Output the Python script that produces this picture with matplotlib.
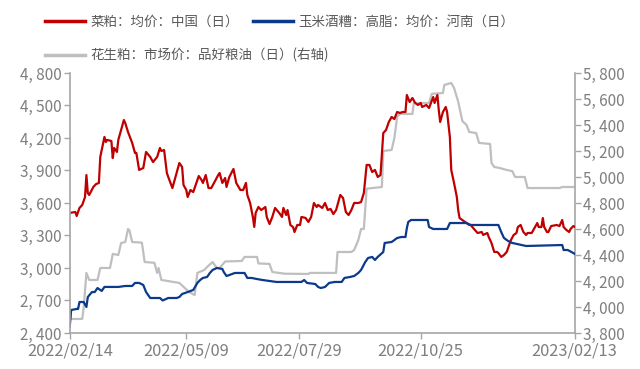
import pandas as pd
import matplotlib
import matplotlib.pyplot as plt
from matplotlib.lines import Line2D
from matplotlib.ticker import FuncFormatter, MultipleLocator

matplotlib.use('Agg')

plt.rcParams['font.family'] = ['Noto Sans CJK SC', 'DejaVu Sans']

start = pd.Timestamp('2022-02-14')

# 菜粕 (left axis): days since start, price
rape_days = [0, 4, 5, 7, 9, 11, 12, 13, 14, 17, 19, 21, 22, 25, 26, 27, 30, 31, 32, 34,
             35, 37, 39, 40, 42, 45, 47, 48, 50, 53, 55, 58, 60, 63, 65, 66, 68, 70, 71, 74,
             76, 79, 81, 82, 84, 85, 87, 89, 92, 93, 95, 96, 98, 100, 102, 104, 107, 108, 110, 112,
             113, 115, 118, 120, 123, 125, 127, 128, 130, 132, 133, 134, 136, 138, 141, 142, 144, 146, 148, 151,
             153, 154, 156, 157, 159, 161, 162, 164, 166, 167, 170, 172, 174, 176, 178, 179, 182, 184, 186, 188,
             190, 192, 195, 197, 199, 201, 203, 205, 208, 210, 212, 214, 216, 218, 220, 222, 224, 226, 228, 230,
             232, 234, 236, 238, 240, 242, 243, 245, 247, 249, 251, 253, 254, 257, 259, 262, 263, 265, 266, 267,
             269, 271, 272, 274, 275, 277, 279, 280, 281, 283, 286, 289, 292, 294, 297, 298, 301, 302, 304, 306,
             308, 309, 311, 313, 315, 316, 318, 320, 322, 323, 325, 327, 329, 330, 333, 335, 337, 338, 340, 341,
             342, 344, 345, 347, 351, 353, 355, 356, 358, 360, 361, 363, 364]
rape_vals = [3508, 3517, 3480, 3554, 3582, 3655, 3858, 3692, 3674, 3748, 3775, 3785, 4025, 4210, 4163, 4182, 4172, 4015, 4108, 4071,
             4182, 4274, 4366, 4338, 4255, 4154, 4062, 4062, 3905, 3923, 4071, 4025, 3978, 4025, 4108, 4080, 4089, 3877, 3840, 3738,
             3831, 3969, 3932, 3766, 3720, 3655, 3720, 3701, 3812, 3849, 3812, 3785, 3858, 3738, 3738, 3785, 3858, 3877, 3785, 3831,
             3748, 3840, 3914, 3785, 3720, 3720, 3785, 3674, 3600, 3471, 3379, 3508, 3563, 3535, 3563, 3471, 3406, 3471, 3554, 3508,
             3471, 3554, 3489, 3535, 3397, 3378, 3332, 3397, 3397, 3471, 3462, 3425, 3471, 3600, 3563, 3582, 3554, 3600, 3535, 3545,
             3498, 3535, 3674, 3646, 3517, 3489, 3535, 3600, 3600, 3609, 3692, 3951, 3951, 3886, 3905, 3840, 3858, 4246, 4274, 4348,
             4394, 4375, 4440, 4431, 4440, 4440, 4597, 4532, 4569, 4523, 4505, 4523, 4486, 4505, 4477, 4578, 4523, 4597, 4458, 4348,
             4440, 4486, 4440, 4209, 3905, 3785, 3656, 3535, 3461, 3443, 3415, 3397, 3351, 3323, 3332, 3305, 3323, 3286, 3231, 3148,
             3148, 3138, 3102, 3120, 3148, 3185, 3258, 3305, 3323, 3378, 3397, 3332, 3305, 3323, 3323, 3369, 3415, 3378, 3378, 3461,
             3378, 3332, 3332, 3387, 3397, 3387, 3443, 3378, 3351, 3332, 3360, 3387, 3380]

# 玉米酒糟 (left axis)
ddgs_days = [0, 1, 5, 6, 7, 10, 12, 13, 16, 18, 20, 23, 25, 35, 40, 45, 47, 50, 53, 55,
             58, 65, 67, 71, 77, 79, 81, 85, 89, 92, 94, 96, 99, 101, 103, 106, 110, 111, 113, 115,
             119, 126, 128, 131, 135, 139, 144, 149, 167, 169, 171, 177, 179, 181, 184, 187, 191, 196, 198, 202,
             205, 208, 210, 213, 215, 218, 220, 222, 226, 227, 232, 234, 236, 239, 242, 243, 244, 246, 258, 259,
             262, 272, 274, 286, 288, 309, 311, 313, 316, 319, 329, 355, 356, 359, 363, 364]
ddgs_vals = [2460, 2612, 2622, 2622, 2686, 2686, 2640, 2732, 2778, 2778, 2815, 2788, 2825, 2825, 2834, 2834, 2862, 2862, 2843, 2778,
             2723, 2723, 2700, 2723, 2723, 2732, 2760, 2778, 2797, 2862, 2889, 2908, 2917, 2954, 2982, 3000, 2991, 2963, 2926, 2935,
             2954, 2954, 2908, 2908, 2898, 2889, 2880, 2871, 2871, 2889, 2862, 2852, 2825, 2815, 2825, 2862, 2871, 2871, 2908, 2917,
             2926, 2954, 2982, 3055, 3092, 3102, 3074, 3102, 3148, 3231, 3240, 3258, 3277, 3286, 3286, 3369, 3425, 3443, 3443, 3378,
             3360, 3360, 3415, 3415, 3397, 3397, 3332, 3277, 3249, 3231, 3203, 3212, 3166, 3166, 3138, 3130]

# 花生粕 (right axis)
peanut_days = [0, 1, 9, 10, 12, 14, 20, 22, 29, 31, 35, 37, 40, 42, 43, 45, 52, 54, 61, 63,
               64, 66, 79, 86, 90, 92, 97, 99, 103, 106, 108, 112, 124, 126, 135, 136, 144, 146, 155, 172,
               173, 192, 193, 203, 205, 208, 210, 212, 214, 225, 226, 232, 234, 236, 238, 247, 248, 259, 261, 269,
               270, 275, 277, 280, 283, 286, 288, 293, 295, 303, 304, 306, 310, 315, 319, 321, 328, 330, 353, 355, 364]
peanut_vals = [3954, 3908, 3908, 3992, 4262, 4208, 4208, 4300, 4300, 4408, 4400, 4492, 4500, 4600, 4590, 4500, 4495, 4346, 4340, 4262,
               4300, 4208, 4185, 4115, 4092, 4262, 4285, 4308, 4346, 4300, 4300, 4350, 4354, 4385, 4385, 4335, 4331, 4269, 4256, 4254,
               4262, 4262, 4423, 4423, 4438, 4515, 4600, 4600, 4910, 4923, 5200, 5208, 5300, 5462, 5485, 5485, 5569, 5569, 5640, 5646,
               5708, 5723, 5685, 5580, 5430, 5400, 5346, 5338, 5262, 5254, 5108, 5077, 5069, 5054, 5045, 5000, 5000, 4915, 4915, 4923, 4923]

tick_dates = ['2022-02-14', '2022-05-09', '2022-07-29', '2022-10-25', '2023-02-13']

RED = '#c00000'
BLUE = '#0b3a8c'
GRAY = '#bfbfbf'
AXIS = '#a6a6a6'
TXT = '#7f7f7f'

def to_dates(days):
    return start + pd.to_timedelta(days, unit='D')

fig = plt.figure(figsize=(6.4, 3.69), dpi=100)
ax = fig.add_axes([0.109, 0.0976, 0.789, 0.7046])
ax2 = ax.twinx()

ax2.plot(to_dates(peanut_days), peanut_vals, color=GRAY, lw=1.6)
ax.plot(to_dates(rape_days), rape_vals, color=RED, lw=1.6)
ax.plot(to_dates(ddgs_days), ddgs_vals, color=BLUE, lw=1.6)

ax.set_zorder(2)
ax.patch.set_visible(False)

ax.set_xlim(start, pd.Timestamp(tick_dates[-1]))
ax.set_ylim(2400, 4800)
ax2.set_ylim(3800, 5800)
ax.yaxis.set_major_locator(MultipleLocator(300))
ax2.yaxis.set_major_locator(MultipleLocator(200))

fmt = FuncFormatter(lambda v, p: f'{int(v):,}'.replace(',', ', '))
ax.yaxis.set_major_formatter(fmt)
ax2.yaxis.set_major_formatter(fmt)

ax.set_xticks(pd.to_datetime(tick_dates))
ax.set_xticklabels([d.replace('-', '/') for d in tick_dates])

for a in (ax, ax2):
    for s in a.spines.values():
        s.set_color(AXIS)
        s.set_linewidth(1.2)
    a.spines['top'].set_visible(False)
    a.tick_params(colors=AXIS, labelcolor=TXT, length=4, width=1, labelsize=11)
ax.tick_params(axis='y', pad=2)
ax2.tick_params(axis='y', pad=2)
ax.tick_params(axis='x', pad=3, labelsize=11.8)
ax2.spines['left'].set_visible(False)
ax2.spines['bottom'].set_visible(False)
ax.spines['right'].set_visible(False)

# legend: two rows
row1 = [Line2D([], [], color=RED, lw=2.5), Line2D([], [], color=BLUE, lw=2.5)]
leg1 = fig.legend(row1, ['菜粕：均价：中国（日）', '玉米酒糟：高脂：均价：河南（日）'],
                  loc='center left', bbox_to_anchor=(0.07, 0.94), ncol=2, frameon=False,
                  fontsize=9.7, handlelength=3.0, handletextpad=0.4, columnspacing=1.0,
                  borderpad=0, borderaxespad=0)
row2 = [Line2D([], [], color=GRAY, lw=2.5)]
leg2 = fig.legend(row2, ['花生粕：市场价：品好粮油（日）(右轴)'],
                  loc='center left', bbox_to_anchor=(0.07, 0.851), frameon=False,
                  fontsize=9.7, handlelength=3.0, handletextpad=0.4,
                  borderpad=0, borderaxespad=0)
for lg in (leg1, leg2):
    for t in lg.get_texts():
        t.set_color('#595959')

fig.savefig('out.png', dpi=100)
